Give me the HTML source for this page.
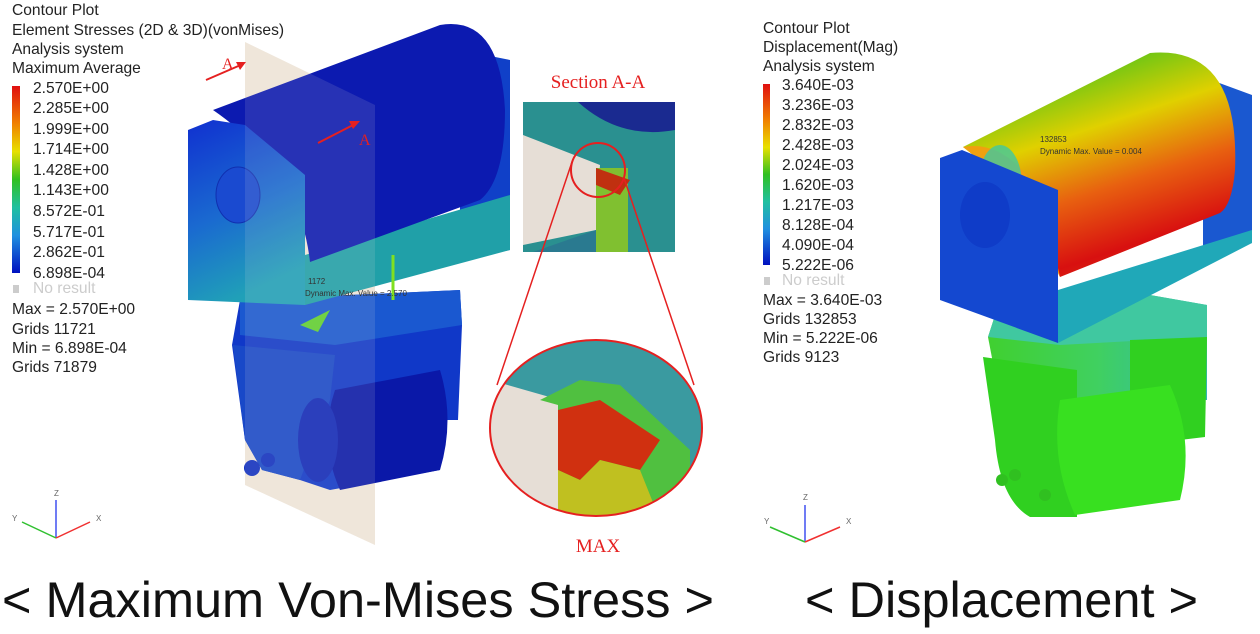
<!DOCTYPE html>
<html><head><meta charset="utf-8"><style>
html,body{margin:0;padding:0;background:#fff;width:1260px;height:634px;overflow:hidden}
svg{display:block}
.t{font-family:"Liberation Sans",sans-serif;font-size:15.6px;fill:#222}
.s{font-family:"Liberation Serif",serif;fill:#e52020}
</style></head><body>
<svg width="1260" height="634" viewBox="0 0 1260 634" xmlns="http://www.w3.org/2000/svg">
<defs>
<linearGradient id="lg1" x1="0" y1="0" x2="0" y2="1">
<stop offset="0" stop-color="#e01010"/><stop offset=".2" stop-color="#f08000"/><stop offset=".35" stop-color="#e8e000"/><stop offset=".5" stop-color="#30c020"/><stop offset=".65" stop-color="#20c0a0"/><stop offset=".8" stop-color="#2090e0"/><stop offset="1" stop-color="#0010c0"/>
</linearGradient>
<linearGradient id="faceL" x1="0" y1="0" x2="0.3" y2="1"><stop offset="0" stop-color="#1030d0"/><stop offset=".55" stop-color="#1a6ad0"/><stop offset="1" stop-color="#20a0b8"/></linearGradient>
<linearGradient id="cylR" x1="0.3" y1="0" x2="0.7" y2="1"><stop offset="0" stop-color="#30c020"/><stop offset=".35" stop-color="#e0d000"/><stop offset=".6" stop-color="#e86010"/><stop offset=".85" stop-color="#d81010"/><stop offset="1" stop-color="#d83010"/></linearGradient>
<linearGradient id="blkR" x1="0" y1="0" x2="1" y2="0"><stop offset="0" stop-color="#40d030"/><stop offset=".5" stop-color="#40d060"/><stop offset="1" stop-color="#30b8b0"/></linearGradient>
</defs>

<text class="t" x="12" y="15">Contour Plot</text>
<text class="t" x="12" y="35">Element Stresses (2D &amp; 3D)(vonMises)</text>
<text class="t" x="12" y="54">Analysis system</text>
<text class="t" x="12" y="73">Maximum Average</text>
<rect x="12" y="86" width="8" height="187" fill="url(#lg1)"/>
<g class="t">
<text x="33" y="93">2.570E+00</text><text x="33" y="113">2.285E+00</text><text x="33" y="134">1.999E+00</text><text x="33" y="154">1.714E+00</text><text x="33" y="175">1.428E+00</text><text x="33" y="195">1.143E+00</text><text x="33" y="216">8.572E-01</text><text x="33" y="237">5.717E-01</text><text x="33" y="257">2.862E-01</text><text x="33" y="278">6.898E-04</text>
</g>
<rect x="13" y="285" width="6" height="8" fill="#ccc"/>
<text class="t" x="33" y="293" style="fill:#ccc">No result</text>
<text class="t" x="12" y="314">Max = 2.570E+00</text>
<text class="t" x="12" y="334">Grids 11721</text>
<text class="t" x="12" y="353">Min = 6.898E-04</text>
<text class="t" x="12" y="372">Grids 71879</text>

<g stroke-width="1.5" fill="none">
<line x1="56" y1="538" x2="56" y2="500" stroke="#4050f0"/>
<line x1="56" y1="538" x2="22" y2="522" stroke="#30c030"/>
<line x1="56" y1="538" x2="90" y2="522" stroke="#f03030"/>
</g>
<text x="54" y="496" font-size="8" font-family="Liberation Sans" fill="#666">Z</text>
<text x="12" y="521" font-size="8" font-family="Liberation Sans" fill="#666">Y</text>
<text x="96" y="521" font-size="8" font-family="Liberation Sans" fill="#666">X</text>

<polygon points="245,42 375,105 375,545 245,485" fill="#efe6da"/>
<path d="M240,300 L460,290 L462,325 L458,420 L440,420 L440,470 L330,490 L300,480 L262,470 L245,440 L232,345 Z" fill="#1038c8"/>
<polygon points="240,300 460,290 462,325 335,345 240,335" fill="#1a58d0"/>
<polygon points="233,345 335,355 330,400 300,480 262,470 245,440" fill="#1848c8"/>
<path d="M335,390 L440,370 Q455,420 440,470 L340,490 Q318,440 335,390 Z" fill="#0a18a8"/>
<ellipse cx="318" cy="440" rx="20" ry="42" fill="#1028b8"/>
<circle cx="252" cy="468" r="8" fill="#1030c0"/><circle cx="268" cy="460" r="7" fill="#1030c0"/>
<polygon points="300,325 330,310 318,332" fill="#60d030"/>
<polygon points="460,50 510,60 510,250 460,260" fill="#1040c8"/>
<polygon points="305,255 510,195 510,250 305,305" fill="#20a0a8"/>
<path d="M213,110 L440,25 Q500,15 505,110 Q505,180 480,200 L310,262 Q300,170 213,110 Z" fill="#0c1ab0"/>
<polygon points="188,130 213,120 245,125 305,175 305,305 188,300" fill="url(#faceL)"/>
<ellipse cx="238" cy="195" rx="22" ry="28" fill="#1a4ad0" stroke="#1030b0"/>
<line x1="393" y1="255" x2="393" y2="300" stroke="#80e020" stroke-width="3"/>
<polygon points="245,42 375,105 375,545 245,485" fill="#efe6da" opacity=".12"/>
<text x="308" y="284" font-size="8" font-family="Liberation Sans" fill="#333">1172</text>
<text x="305" y="296" font-size="8" font-family="Liberation Sans" fill="#333">Dynamic Max. Value = 2.570</text>
<line x1="206" y1="80" x2="243" y2="64" stroke="#e52020" stroke-width="2"/><polygon points="246,62 236,62 240,70" fill="#e52020"/>
<text class="s" x="222" y="69" font-size="16">A</text>
<line x1="318" y1="143" x2="355" y2="124" stroke="#e52020" stroke-width="2"/><polygon points="360,121 349,121 353,129" fill="#e52020"/>
<text class="s" x="359" y="145" font-size="16">A</text>

<text class="s" x="598" y="88" font-size="19" text-anchor="middle">Section A-A</text>
<rect x="523" y="102" width="152" height="150" fill="#2a9090"/>
<path d="M578,102 Q620,140 675,130 L675,102 Z" fill="#1a2a90"/>
<polygon points="523,135 600,165 596,230 523,245" fill="#e6ded6"/>
<polygon points="533,252 596,230 596,252" fill="#2a7a90"/>
<rect x="596" y="168" width="32" height="84" fill="#80c030"/>
<polygon points="596,168 630,180 620,195 596,185" fill="#c03010"/>
<circle cx="598" cy="170" r="27" fill="none" stroke="#e52020" stroke-width="2"/>
<line x1="572" y1="162" x2="497" y2="385" stroke="#e52020" stroke-width="1.5"/>
<line x1="624" y1="178" x2="694" y2="385" stroke="#e52020" stroke-width="1.5"/>
<clipPath id="ec"><ellipse cx="596" cy="428" rx="106" ry="88"/></clipPath>
<g clip-path="url(#ec)">
<rect x="490" y="340" width="213" height="177" fill="#3a9aa0"/>
<polygon points="490,380 560,400 560,520 490,520" fill="#e6ded6"/>
<polygon points="540,400 580,380 620,385 690,450 690,520 558,520 558,405" fill="#50c040"/>
<polygon points="558,410 600,400 660,440 640,470 600,460 580,480 558,470" fill="#d03010"/>
<polygon points="558,470 580,480 600,460 640,470 660,520 558,520" fill="#c0c020"/>
</g>
<ellipse cx="596" cy="428" rx="106" ry="88" fill="none" stroke="#e52020" stroke-width="2"/>
<text class="s" x="598" y="552" font-size="19" text-anchor="middle">MAX</text>

<text class="t" x="763" y="33">Contour Plot</text>
<text class="t" x="763" y="52">Displacement(Mag)</text>
<text class="t" x="763" y="71">Analysis system</text>
<rect x="763" y="84" width="7" height="181" fill="url(#lg1)"/>
<g class="t">
<text x="782" y="90">3.640E-03</text><text x="782" y="110">3.236E-03</text><text x="782" y="130">2.832E-03</text><text x="782" y="150">2.428E-03</text><text x="782" y="170">2.024E-03</text><text x="782" y="190">1.620E-03</text><text x="782" y="210">1.217E-03</text><text x="782" y="230">8.128E-04</text><text x="782" y="250">4.090E-04</text><text x="782" y="270">5.222E-06</text>
</g>
<rect x="764" y="277" width="6" height="8" fill="#ccc"/>
<text class="t" x="782" y="285" style="fill:#ccc">No result</text>
<text class="t" x="763" y="305">Max = 3.640E-03</text>
<text class="t" x="763" y="324">Grids 132853</text>
<text class="t" x="763" y="343">Min = 5.222E-06</text>
<text class="t" x="763" y="362">Grids 9123</text>
<g stroke-width="1.5" fill="none">
<line x1="805" y1="542" x2="805" y2="505" stroke="#4050f0"/>
<line x1="805" y1="542" x2="770" y2="527" stroke="#30c030"/>
<line x1="805" y1="542" x2="840" y2="527" stroke="#f03030"/>
</g>
<text x="803" y="500" font-size="8" font-family="Liberation Sans" fill="#666">Z</text>
<text x="764" y="524" font-size="8" font-family="Liberation Sans" fill="#666">Y</text>
<text x="846" y="524" font-size="8" font-family="Liberation Sans" fill="#666">X</text>

<polygon points="1000,300 1150,295 1207,305 1207,400 1000,400 988,337" fill="url(#blkR)"/>
<polygon points="1000,300 1150,295 1207,305 1207,337 1060,345 988,337" fill="#40c8a0"/>
<path d="M983,357 L1077,370 L1077,517 L1030,517 Q1000,500 995,440 Z" fill="#30d020"/>
<path d="M1130,340 L1207,337 L1205,437 L1180,440 L1130,420 Z" fill="#30d020"/>
<path d="M1060,400 L1170,385 Q1195,440 1180,500 L1075,515 Q1050,460 1060,400 Z" fill="#38e020"/>
<circle cx="1002" cy="480" r="6" fill="#30c020"/><circle cx="1015" cy="475" r="6" fill="#30c020"/>
<circle cx="1045" cy="495" r="6" fill="#30c020"/>
<polygon points="1203,77 1252,95 1252,243 1203,250" fill="#1a58d0"/>
<polygon points="1058,290 1252,230 1252,243 1058,343" fill="#20a8b8"/>
<path d="M963,147 L1150,53 Q1240,45 1235,170 Q1232,205 1220,213 L1060,277 Q1020,190 963,147 Z" fill="url(#cylR)"/>
<path d="M963,147 Q1000,140 1030,180 Q1050,230 1060,277 Q1020,190 963,147 Z" fill="#f0a010"/>
<ellipse cx="1000" cy="185" rx="22" ry="40" fill="#40c8a0" opacity=".8"/>
<polygon points="940,158 962,150 1058,190 1058,343 940,300" fill="#1448d0"/>
<ellipse cx="985" cy="215" rx="25" ry="33" fill="#0a30c0" opacity=".5"/>
<text x="1040" y="142" font-size="8" font-family="Liberation Sans" fill="#333">132853</text>
<text x="1040" y="154" font-size="8" font-family="Liberation Sans" fill="#333">Dynamic Max. Value = 0.004</text>

<text x="2" y="617" font-family="Liberation Sans" font-size="50" fill="#111" textLength="712" lengthAdjust="spacingAndGlyphs">&lt; Maximum Von-Mises Stress &gt;</text>
<text x="805" y="617" font-family="Liberation Sans" font-size="50" fill="#111" textLength="393" lengthAdjust="spacingAndGlyphs">&lt; Displacement &gt;</text>
</svg>
</body></html>
